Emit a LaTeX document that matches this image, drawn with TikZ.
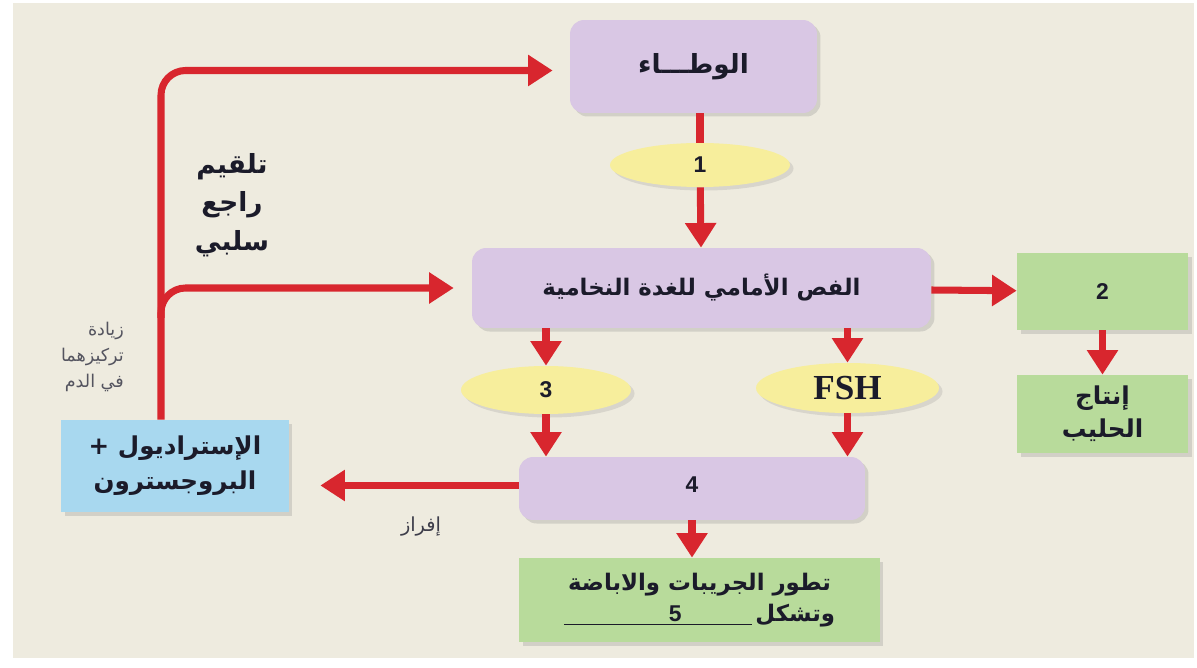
\documentclass[tikz,border=0pt]{standalone}
\usepackage{fontspec}
\setmainfont{Liberation Sans}
\newfontfamily\arabicfont[Script=Arabic]{DejaVu Sans}
\newfontfamily\serifnum{Liberation Serif}
\TeXXeTstate=1
\usetikzlibrary{shapes.geometric, arrows.meta, positioning, shadows}
\definecolor{paper}{HTML}{EEEBDF}
\definecolor{arrowred}{HTML}{D8262E}
\definecolor{glandpurple}{HTML}{D9C7E4}
\definecolor{hormyellow}{HTML}{F7EE9C}
\definecolor{effgreen}{HTML}{B8DB9B}
\definecolor{steroidblue}{HTML}{A8D8EF}
\definecolor{ink}{HTML}{1B1B2A}
\newcommand\arb[1]{{\arabicfont\beginR #1\endR}}
\tikzstyle{arrow} = [line width=4pt, draw=arrowred, -{Triangle[length=14pt,width=17pt]}]
\tikzstyle{link} = [line width=4pt, draw=arrowred]
\tikzstyle{gland} = [rectangle, rounded corners=8pt, fill=glandpurple, text=ink, drop shadow={shadow xshift=2pt, shadow yshift=-2pt, opacity=0.25}]
\tikzstyle{hormone} = [ellipse, fill=hormyellow, text=ink, inner sep=0pt, drop shadow={shadow xshift=2pt, shadow yshift=-2pt, opacity=0.2}]
\tikzstyle{effect} = [rectangle, fill=effgreen, text=ink, drop shadow={shadow xshift=2pt, shadow yshift=-2pt, opacity=0.25}]
\tikzstyle{steroid} = [rectangle, fill=steroidblue, text=ink, drop shadow={shadow xshift=2pt, shadow yshift=-2pt, opacity=0.25}]

\begin{document}
\begin{tikzpicture}[x=0.02cm, y=-0.02cm, font=\bfseries\fontsize{13}{18}\selectfont]
\useasboundingbox (0,0) rectangle (1197,668);
\fill[white] (0,0) rectangle (1197,668);
\fill[paper] (13,3) rectangle (1194,658);

% Placement of gland nodes
\node (watta) [gland, minimum width=4.94cm, minimum height=1.86cm, font=\bfseries\fontsize{15}{18}\selectfont] at (693.5,66.5) {\arb{الوطـــاء}};
\node (h1) [hormone, minimum width=3.6cm, minimum height=0.88cm] at (700,165) {1};
\node (pit) [gland, minimum width=9.18cm, minimum height=1.6cm] at (701.5,288) {\arb{الفص الأمامي للغدة النخامية}};

% prolactin branch
\node (box2) [effect, minimum width=3.42cm, minimum height=1.54cm] at (1102.5,291.5) {2\hspace{1.1cm}};
\node (milk) [effect, minimum width=3.42cm, minimum height=1.56cm, align=center, font=\bfseries\fontsize{14}{19}\selectfont] at (1102.5,414) {\arb{إنتاج}\\\arb{الحليب}};

% hormones to ovary
\node (h3) [hormone, minimum width=3.4cm, minimum height=0.96cm] at (546,390) {\raisebox{-4pt}{3}};
\node (fsh) [hormone, minimum width=3.66cm, minimum height=1.0cm, font=\serifnum\bfseries\fontsize{20}{22}\selectfont] at (847.5,388) {FSH};
\node (box4) [gland, minimum width=6.92cm, minimum height=1.26cm] at (692,488.5) {\raisebox{4pt}{4}};
\node (box5) [effect, minimum width=7.22cm, minimum height=1.68cm, align=center] at (699.5,600) {\arb{تطور الجريبات والاباضة}\\\underline{\hspace{2.1cm}5\hspace{1.4cm}}\,\arb{وتشكل}};
\node (est) [steroid, minimum width=4.56cm, minimum height=1.84cm, align=center, font=\bfseries\fontsize{14}{20}\selectfont] at (175,466) {\arb{الإستراديول +}\\\arb{البروجسترون}};

% side labels
\node (feedback) [align=center, text=ink, font=\bfseries\fontsize{15}{22}\selectfont] at (232,205) {\arb{تلقيم}\\\arb{راجع}\\\arb{سلبي}};
\node (increase) [align=right, anchor=east, text=ink!75, font=\fontsize{10}{15}\selectfont] at (130,357) {\arb{زيادة}\\\arb{تركيزهما}\\\arb{في الدم}};
\node (secretion) [text=ink!85, font=\fontsize{11}{13}\selectfont] at (421,527) {\arb{إفراز}};

% Drawing of main lines
\draw [link] (watta.south -| h1) -- (h1);
\draw [arrow] (h1) -- (pit);
\draw [arrow] (pit) -- (box2);
\draw [arrow] (box2) -- (milk);
\draw [arrow] (pit.south -| h3) -- (h3);
\draw [arrow] (pit.south -| fsh) -- (fsh);
\draw [arrow] (h3) -- (h3 |- box4.north);
\draw [arrow] (fsh) -- (fsh |- box4.north);
\draw [arrow] (box4.south) -- (box4.south |- box5.north);
\coordinate (esttip) at ([xshift=0.62cm]est.east);
\draw [arrow] ([yshift=0.06cm]box4.west) -- ([yshift=0.06cm]box4.west -| esttip);

% feedback lines
\coordinate (fork) at (161,318);
\draw [arrow, rounded corners=14pt] ([xshift=-0.28cm]est.north) |- ([xshift=-0.34cm, yshift=-0.08cm]watta.west);
\draw [arrow, rounded corners=14pt] (fork) |- ([xshift=-0.36cm]pit.west);
\end{tikzpicture}
\end{document}
